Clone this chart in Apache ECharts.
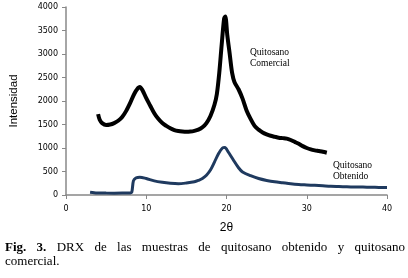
<!DOCTYPE html>
<html><head><meta charset="utf-8">
<script src="https://cdn.jsdelivr.net/npm/echarts@6/dist/echarts.min.js"></script>
<style>html,body{margin:0;padding:0;background:#fff}#c{width:408px;height:278px}</style>
</head><body><div id="c"></div>
<script>
// Quitosano Comercial: 2θ values and intensities
const comX = [4.0,4.2,4.5,5.0,5.5,6.0,6.5,7.0,7.5,8.0,8.5,9.0,9.2,9.5,10.0,10.5,11.0,11.5,12.0,12.5,13.0,13.5,14.0,14.5,15.0,15.5,16.0,16.5,17.0,17.5,18.0,18.5,18.8,19.1,19.4,19.7,19.85,20.1,20.4,20.7,21.0,21.5,22.0,22.5,23.0,23.5,24.0,24.5,25.0,25.5,26.0,26.5,27.0,27.5,28.0,28.5,29.0,29.5,30.0,30.5,31.0,31.5,32.0,32.5];
const comY = [1720,1600,1530,1490,1500,1530,1580,1660,1790,1960,2150,2280,2300,2240,2060,1900,1740,1620,1530,1470,1420,1380,1360,1350,1345,1350,1365,1390,1440,1530,1680,1920,2150,2600,3200,3750,3800,3400,3000,2600,2400,2250,2050,1800,1620,1470,1390,1330,1290,1260,1240,1220,1210,1200,1170,1130,1090,1040,1000,970,950,935,920,900];
// Quitosano Obtenido
const obtX = [3.0,3.5,4,5,6,7,8,8.2,8.4,8.7,9.2,10,11,12,13,14,15,16,16.5,17,17.5,18,18.5,19,19.5,19.8,20.2,20.8,21.5,22,23,24,25,26,27,28,29,30,31,32,33,34,35,36,37,38,39,40];
const obtY = [60,50,45,40,38,40,45,60,300,360,380,350,300,270,250,240,255,280,310,350,420,530,700,880,1000,1010,920,760,580,490,410,350,310,280,260,240,225,215,205,195,185,180,175,170,168,165,162,160];
const xTicks = [0,10,20,30,40];
const yTicks = [0,500,1000,1500,2000,2500,3000,3500,4000];
const captionLine1 = ["Fig.","3.","DRX","de","las","muestras","de","quitosano","obtenido","y","quitosano"];
const captionLine2 = "comercial.";

const pair = (xs, ys) => xs.map((x,i)=>[x, ys[i]]);

// justified caption
const cv = document.createElement('canvas').getContext('2d');
const serif = '"Liberation Serif","Times New Roman",serif';
const fs = 13;
const widths = captionLine1.map((w,i)=>{ cv.font = (i<2?'bold ':'') + fs + 'px ' + serif; return cv.measureText(w).width; });
const L = 5, R = 405;
const gap = (R - L - widths.reduce((a,b)=>a+b,0)) / (captionLine1.length - 1);
const capEls = [];
let cx = L;
captionLine1.forEach((w,i)=>{
  capEls.push({type:'text', left: cx, top: 241, style:{text:w, font:(i<2?'bold ':'') + fs + 'px ' + serif, fill:'#000'}});
  cx += widths[i] + gap;
});
capEls.push({type:'text', left: L, top: 255, style:{text:captionLine2, font: fs + 'px ' + serif, fill:'#000'}});

const annFont = '9.5px ' + serif;
const chart = echarts.init(document.getElementById('c'), null, {renderer:'canvas'});
chart.setOption({
  animation:false,
  grid:{left:66, right:21, top:7, bottom:83},
  xAxis:{type:'value', min:0, max:40, interval:10,
    name:'2θ', nameLocation:'middle', nameGap:27,
    nameTextStyle:{fontFamily:'"Liberation Sans",Arial,sans-serif', fontSize:12, color:'#000'},
    axisLine:{lineStyle:{color:'#888', width:1.5}},
    axisTick:{show:true, length:4, lineStyle:{color:'#888'}},
    axisLabel:{fontFamily:'"DejaVu Sans",Verdana,sans-serif', fontSize:8, color:'#000', margin:10,
      formatter:v=>xTicks.includes(v)?String(v):''},
    splitLine:{show:false}},
  yAxis:{type:'value', min:0, max:4000, interval:500,
    name:'Intensidad', nameLocation:'middle', nameGap:46, nameRotate:90,
    nameTextStyle:{fontFamily:'"Liberation Sans",Arial,sans-serif', fontSize:11.5, color:'#000'},
    axisLine:{show:true, lineStyle:{color:'#888', width:1.5}},
    axisTick:{show:true, length:4, lineStyle:{color:'#888'}},
    axisLabel:{fontFamily:'"DejaVu Sans",Verdana,sans-serif', fontSize:8, color:'#000', margin:8,
      formatter:v=>yTicks.includes(v)?String(v):''},
    splitLine:{show:false}},
  series:[
    {type:'line', data:pair(comX,comY), symbol:'none', smooth:0.3,
      lineStyle:{color:'#000', width:4}},
    {type:'line', data:pair(obtX,obtY), symbol:'none', smooth:0.3,
      lineStyle:{color:'#1F3A5F', width:3}}
  ],
  graphic:[
    {type:'text', left:250, top:47, style:{text:'Quitosano\nComercial', font:annFont, fill:'#000', lineHeight:11}},
    {type:'text', left:333, top:160, style:{text:'Quitosano\nObtenido', font:annFont, fill:'#000', lineHeight:11}}
  ].concat(capEls)
});
</script></body></html>
